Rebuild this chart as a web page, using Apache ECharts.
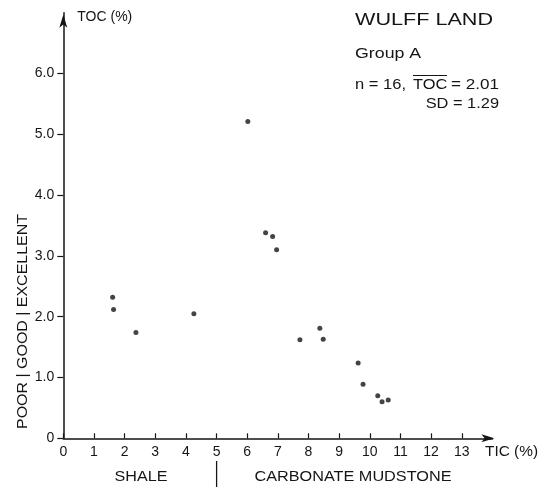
<!DOCTYPE html>
<html>
<head>
<meta charset="utf-8">
<script src="https://cdn.jsdelivr.net/npm/echarts@6/dist/echarts.min.js"></script>
<style>
  html, body { margin: 0; padding: 0; background: #fff; }
  #chart { width: 550px; height: 489px; }
</style>
</head>
<body>
<div id="chart"></div>
<script>
// Wulff Land, Group A: total organic carbon vs total inorganic carbon
const ticValues = [1.61, 1.64, 2.37, 4.26, 6.02, 6.60, 6.83, 6.96, 7.72, 8.37, 8.48, 9.62, 9.78, 10.26, 10.40, 10.60];
const tocValues = [2.32, 2.12, 1.74, 2.05, 5.21, 3.38, 3.32, 3.10, 1.62, 1.81, 1.63, 1.24, 0.89, 0.70, 0.60, 0.63];

const xTicks = [0, 1, 2, 3, 4, 5, 6, 7, 8, 9, 10, 11, 12, 13];
const yTicks = [0, 1, 2, 3, 4, 5, 6];
const yTickLabels = ['0', '1.0', '2.0', '3.0', '4.0', '5.0', '6.0'];

const INK = '#151515';
const FONT = '"Liberation Sans", Arial, Helvetica, sans-serif';

const points = ticValues.map((v, i) => [v, tocValues[i]]);

// horizontally widened label text
function label(text, x, y, size, stretch, align, extra) {
  return Object.assign({
    type: 'text', x: x, y: y, scaleX: stretch, silent: true,
    style: { text: text, fill: INK, font: size + 'px ' + FONT,
             align: align || 'left', verticalAlign: 'middle' }
  }, extra || {});
}

const chart = echarts.init(document.getElementById('chart'), null, { renderer: 'canvas' });

chart.setOption({
  backgroundColor: '#ffffff',
  animation: false,
  grid: { left: 63.3, right: 57.6, top: 12.7, bottom: 50.7, containLabel: false },
  xAxis: {
    type: 'value',
    min: 0,
    max: 14,
    splitLine: { show: false },
    axisLine: {
      onZero: false,
      lineStyle: { color: INK, width: 1.5 },
      symbol: ['none', 'arrow'],
      symbolSize: [6, 13],
      symbolOffset: [0, 2]
    },
    axisTick: { show: true, inside: true, length: 5, customValues: xTicks, lineStyle: { color: INK, width: 1.2 } },
    axisLabel: { customValues: xTicks, color: INK, fontFamily: FONT, fontSize: 14, margin: 7 }
  },
  yAxis: {
    type: 'value',
    min: 0,
    max: 7,
    name: 'TOC (%)',
    nameLocation: 'end',
    nameGap: -4,
    nameTextStyle: {
      color: INK, fontFamily: FONT, fontSize: 14, align: 'left',
      verticalAlign: 'middle', padding: [0, 0, 0, 14]
    },
    splitLine: { show: false },
    axisLine: {
      onZero: false,
      lineStyle: { color: INK, width: 1.5 },
      symbol: ['none', 'arrow'],
      symbolSize: [6, 13],
      symbolOffset: [0, -2]
    },
    axisTick: { show: true, inside: false, length: 6, customValues: yTicks, lineStyle: { color: INK, width: 1.2 } },
    axisLabel: {
      customValues: yTicks,
      color: INK, fontFamily: FONT, fontSize: 14, margin: 9,
      formatter: v => yTickLabels[yTicks.indexOf(v)] ?? ''
    }
  },
  series: [{
    type: 'scatter',
    data: points,
    symbol: 'circle',
    symbolSize: 5,
    itemStyle: { color: INK },
    silent: true
  }],
  graphic: [
    // TIC axis title
    label('TIC (%)', 485, 452, 14, 1.1),
    // source and summary statistics
    label('WULFF LAND', 355, 21, 16, 1.35),
    label('Group A', 355, 54, 14, 1.27),
    label('n = 16,', 355, 85, 14, 1.18),
    label('TOC', 413, 85, 14, 1.17),
    { type: 'line', silent: true, shape: { x1: 413, y1: 75.5, x2: 447, y2: 75.5 },
      style: { stroke: INK, lineWidth: 1.2 } },
    label('= 2.01', 499, 85, 14, 1.22, 'right'),
    label('SD = 1.29', 499, 104, 14, 1.17, 'right'),
    // source-rock quality classes along the TOC axis
    label('POOR | GOOD | EXCELLENT', 23, 321.5, 14, 1.14, 'center', { rotation: Math.PI / 2 }),
    // lithology classes along the TIC axis
    label('SHALE', 141, 477, 14, 1.15, 'center'),
    { type: 'line', silent: true, shape: { x1: 216.6, y1: 461, x2: 216.6, y2: 487 },
      style: { stroke: INK, lineWidth: 1.3 } },
    label('CARBONATE MUDSTONE', 353, 477, 14, 1.16, 'center')
  ]
});
</script>
</body>
</html>
